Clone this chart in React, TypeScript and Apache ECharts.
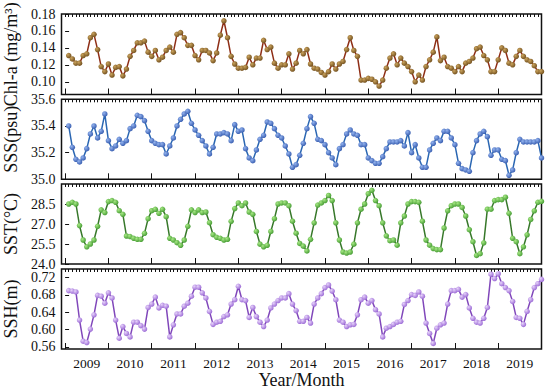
import React, { useEffect, useRef } from "react";
import * as echarts from "echarts";

// Year labels (centred in each year's interval)
const years = ["2009", "2010", "2011", "2012", "2013", "2014", "2015", "2016", "2017", "2018", "2019"];

// Chl-a (mg/m3), monthly
const chla = [
  0.131, 0.127, 0.122, 0.122, 0.131, 0.133, 0.152, 0.156, 0.138, 0.118,
  0.112, 0.121, 0.108, 0.117, 0.118, 0.107, 0.115, 0.130, 0.137, 0.146,
  0.146, 0.148, 0.135, 0.130, 0.137, 0.126, 0.129, 0.137, 0.141, 0.135,
  0.156, 0.158, 0.152, 0.143, 0.143, 0.131, 0.126, 0.137, 0.137, 0.134,
  0.125, 0.134, 0.155, 0.172, 0.152, 0.130, 0.121, 0.116, 0.116, 0.117,
  0.129, 0.120, 0.128, 0.128, 0.149, 0.138, 0.141, 0.122,
  0.116, 0.120, 0.120, 0.133, 0.115, 0.122, 0.137, 0.133, 0.138,
  0.121, 0.116, 0.115, 0.111, 0.108, 0.112, 0.121, 0.115, 0.121, 0.124,
  0.138, 0.152, 0.137, 0.130, 0.102, 0.102, 0.104, 0.103, 0.100, 0.095,
  0.102, 0.116, 0.128, 0.133, 0.120, 0.128, 0.122, 0.118, 0.112, 0.100,
  0.108, 0.102, 0.118, 0.126, 0.135, 0.153, 0.125, 0.129, 0.118, 0.116,
  0.112, 0.118, 0.112, 0.122, 0.124, 0.128, 0.139, 0.141, 0.131, 0.126,
  0.112, 0.112, 0.126, 0.140, 0.137, 0.122, 0.120, 0.130, 0.137, 0.130,
  0.126, 0.124, 0.119, 0.112, 0.112,
];

// SSS (psu)
const sss = [
  35.40, 35.24, 35.15, 35.13, 35.16, 35.23, 35.34, 35.40, 35.31, 35.36,
  35.49, 35.29, 35.23, 35.25, 35.30, 35.27, 35.29, 35.38, 35.40, 35.48,
  35.47, 35.44, 35.36, 35.29, 35.27, 35.26, 35.26, 35.19, 35.25, 35.31,
  35.40, 35.45, 35.49, 35.51, 35.42, 35.37, 35.33, 35.29, 35.25, 35.19,
  35.24, 35.34, 35.34, 35.35, 35.34, 35.29, 35.41, 35.36, 35.37, 35.23,
  35.16, 35.14, 35.22, 35.30, 35.33, 35.43, 35.42, 35.38,
  35.33, 35.31, 35.25, 35.19, 35.09, 35.11, 35.18, 35.27, 35.38, 35.47,
  35.42, 35.30, 35.29, 35.26, 35.20, 35.16, 35.11, 35.23, 35.26, 35.34,
  35.37, 35.34, 35.33, 35.26, 35.26, 35.16, 35.14, 35.12, 35.12, 35.17,
  35.23, 35.28, 35.28, 35.28, 35.29, 35.25, 35.35, 35.20, 35.26, 35.16,
  35.09, 35.09, 35.22, 35.27, 35.31, 35.29, 35.36, 35.36, 35.31, 35.26,
  35.12, 35.08, 35.07, 35.06, 35.20, 35.29, 35.34, 35.36, 35.32, 35.18,
  35.22, 35.22, 35.15, 35.14, 35.03, 35.07, 35.20, 35.30, 35.28, 35.28,
  35.28, 35.28, 35.29, 35.16,
];

// SST (°C)
const sst = [
  28.5, 28.63, 28.5, 26.88, 25.8, 25.29, 25.5, 25.8, 26.83, 28.06,
  27.86, 28.68, 28.76, 28.63, 28.0, 27.73, 26.1, 26.06, 25.93, 25.85,
  25.85, 26.3, 27.4, 28.0, 28.1, 27.8, 28.1, 27.55, 25.93, 25.8,
  25.6, 25.4, 25.8, 26.83, 28.06, 27.86, 28.06, 27.86, 27.9, 27.1,
  26.2, 26.0, 25.93, 25.8, 25.85, 27.2, 28.16, 28.58, 28.37, 28.58,
  27.9, 27.73, 26.44, 25.49, 25.29, 25.4, 26.44, 27.4,
  28.5, 28.58, 28.58, 28.37, 27.21, 26.31, 25.54, 25.34, 24.98, 25.85,
  27.09, 28.42, 28.58, 28.76, 29.14, 28.76, 27.09, 25.8, 24.9, 24.82,
  24.9, 25.49, 27.09, 28.11, 28.5, 29.27, 29.53, 28.76, 28.37, 27.09,
  26.11, 25.75, 25.8, 25.41, 27.09, 27.6, 28.5, 28.68, 28.68, 28.63,
  27.21, 25.8, 25.41, 25.16, 25.08, 25.08, 26.7, 27.99, 28.37, 28.5,
  28.5, 28.24, 27.6, 26.57, 25.67, 24.64, 24.77, 25.59, 28.11, 28.11,
  28.76, 28.83, 28.83, 29.01, 27.8, 25.93, 25.67, 24.77, 25.29, 26.19,
  27.34, 27.99, 28.63, 28.7,
];

// SSH (m)
const ssh = [
  0.690, 0.689, 0.687, 0.622, 0.573, 0.570, 0.601, 0.634, 0.679, 0.677,
  0.661, 0.685, 0.673, 0.622, 0.580, 0.607, 0.591, 0.583, 0.617, 0.617,
  0.609, 0.601, 0.651, 0.659, 0.675, 0.650, 0.656, 0.654, 0.583, 0.611,
  0.636, 0.636, 0.654, 0.661, 0.677, 0.698, 0.698, 0.685, 0.673, 0.642,
  0.612, 0.617, 0.619, 0.630, 0.634, 0.659, 0.669, 0.700, 0.669, 0.667,
  0.628, 0.651, 0.630, 0.617, 0.607, 0.622, 0.650, 0.659,
  0.667, 0.673, 0.673, 0.683, 0.659, 0.644, 0.619, 0.619, 0.628, 0.615,
  0.659, 0.673, 0.683, 0.697, 0.703, 0.689, 0.669, 0.622, 0.617, 0.607,
  0.611, 0.612, 0.634, 0.669, 0.675, 0.661, 0.667, 0.646, 0.636,
  0.583, 0.603, 0.607, 0.612, 0.617, 0.619, 0.658, 0.667, 0.681, 0.679,
  0.687, 0.677, 0.615, 0.591, 0.568, 0.603, 0.611, 0.615, 0.659, 0.690,
  0.690, 0.693, 0.675, 0.681, 0.650, 0.626, 0.617, 0.615, 0.626, 0.651,
  0.728, 0.718, 0.729, 0.706, 0.697, 0.690, 0.665, 0.628, 0.626, 0.612,
  0.642, 0.669, 0.697, 0.706, 0.716,
];

const chlaTicks = [0.10, 0.12, 0.14, 0.16, 0.18];
const sssTicks = [35.0, 35.2, 35.4, 35.6];
const sstTicks = [24.0, 25.5, 27.0, 28.5];
const sshTicks = [0.56, 0.60, 0.64, 0.68, 0.72];

const FONT = "'Liberation Serif', 'Times New Roman', serif";

const panels = [
  { name: "Chl-a (mg/m³)", data: chla, ticks: chlaTicks, digits: 2, min: 0.085, max: 0.18, line: "#8e2e16", dark: "#6a4818", light: "#c9a25c" },
  { name: "SSS(psu)", data: sss, ticks: sssTicks, digits: 1, min: 35.0, max: 35.6, line: "#2a66b2", dark: "#2f55aa", light: "#92b2ee" },
  { name: "SST(°C)", data: sst, ticks: sstTicks, digits: 1, min: 24.0, max: 30.0, line: "#37782a", dark: "#3d952c", light: "#a6e884" },
  { name: "SSH(m)", data: ssh, ticks: sshTicks, digits: 2, min: 0.555, max: 0.74, line: "#8047ba", dark: "#9460d2", light: "#e6d2fa" },
];

const tops = [14, 99.3, 184, 269];
const heights = [80.5, 80, 80, 80];

export default function App() {
  const ref = useRef<HTMLDivElement>(null);
  useEffect(() => {
    if (!ref.current) return;
    const chart = echarts.init(ref.current, null, { renderer: "svg" });
    const majorTicks: number[] = [];
    for (let v = 0; v <= 132; v += 12) majorTicks.push(v);
    const labelPos = years.map((_, i) => 6 + 12 * i);

    const grid = panels.map((_, g) => ({
      left: 61.5,
      right: 8.5,
      top: tops[g],
      height: heights[g],
      show: true,
      borderColor: "#111",
      borderWidth: 1.5,
      backgroundColor: "transparent",
      containLabel: false,
      outerBoundsMode: "none",
    }));

    const xAxis: any[] = [];
    panels.forEach((_, g) => {
      const last = g === panels.length - 1;
      xAxis.push({
        type: "value",
        gridIndex: g,
        min: -1,
        max: 132,
        axisLine: { show: false },
        splitLine: { show: false },
        axisTick: { show: true, inside: true, length: 6, customValues: majorTicks, lineStyle: { color: "#111", width: 1 } },
        axisLabel: last
          ? {
              show: true,
              customValues: labelPos,
              formatter: (v: number) => years[Math.round((v - 6) / 12)] ?? "",
              margin: 7,
              fontSize: 13.5,
              color: "#111",
              fontFamily: FONT,
            }
          : { show: false },
        name: last ? "Year/Month" : "",
        nameLocation: "middle",
        nameGap: 22,
        nameTextStyle: { fontSize: 18, color: "#111", fontFamily: FONT },
      });
      xAxis.push({
        type: "value",
        gridIndex: g,
        min: -1,
        max: 132,
        interval: 1,
        axisLine: { show: false },
        splitLine: { show: false },
        axisTick: { show: true, inside: true, length: 3, lineStyle: { color: "#111", width: 1 } },
        axisLabel: { show: false },
      });
    });

    const yAxis = panels.map((p, g) => ({
      type: "value",
      gridIndex: g,
      min: p.min,
      max: p.max,
      axisLine: { show: false },
      splitLine: { show: false },
      axisTick: { show: true, inside: true, length: 4, customValues: p.ticks, lineStyle: { color: "#111", width: 1 } },
      axisLabel: {
        show: true,
        customValues: p.ticks,
        formatter: (v: number) => v.toFixed(p.digits),
        margin: 6,
        fontSize: 14,
        color: "#111",
        fontFamily: FONT,
      },
      name: p.name,
      nameLocation: "middle",
      nameGap: 35,
      nameTextStyle: { fontSize: 18, color: "#111", fontFamily: FONT },
    }));

    const series = panels.map((p, g) => ({
      type: "line",
      xAxisIndex: 2 * g,
      yAxisIndex: g,
      data: p.data.map((v, i) => [i + 1, v]),
      symbol: "circle",
      symbolSize: 5.5,
      showSymbol: true,
      lineStyle: { color: p.line, width: 1.5 },
      itemStyle: {
        color: new echarts.graphic.RadialGradient(0.35, 0.35, 0.75, [
          { offset: 0, color: p.light },
          { offset: 1, color: p.dark },
        ]),
      },
      z: 3,
    }));

    chart.setOption({
      animation: false,
      backgroundColor: "#fff",
      textStyle: { fontFamily: FONT },
      grid,
      xAxis,
      yAxis,
      series,
    });
    return () => chart.dispose();
  }, []);
  return <div ref={ref} style={{ position: "fixed", left: 0, top: 0, width: 550, height: 391 }} />;
}
